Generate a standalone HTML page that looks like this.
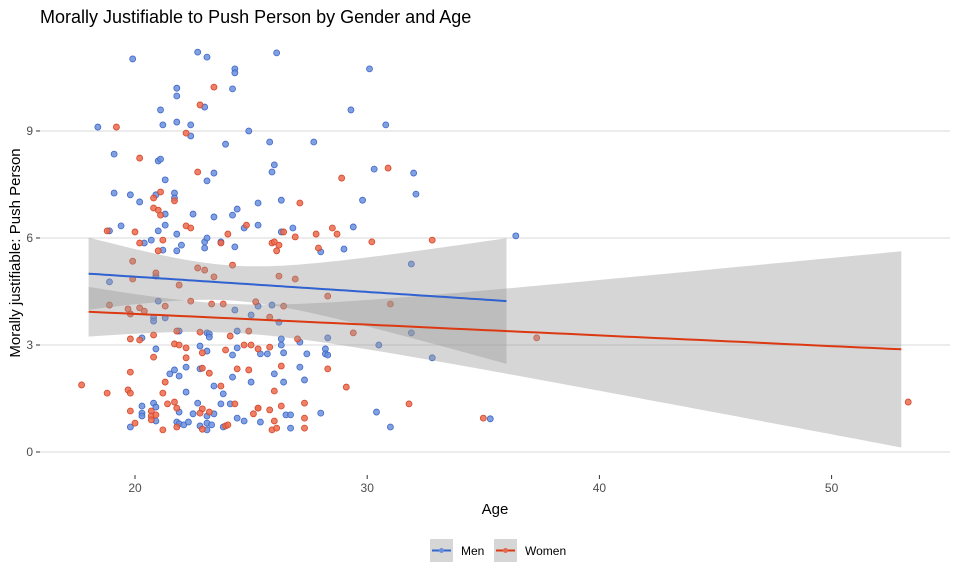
<!DOCTYPE html>
<html><head><meta charset="utf-8">
<style>
html,body{margin:0;padding:0;background:#fff;}
svg{display:block;font-family:"Liberation Sans",Arial,sans-serif;}
</style></head>
<body>
<svg id="chart" width="960" height="576" viewBox="0 0 960 576">
  <text x="40" y="23" font-size="18" fill="#000">Morally Justifiable to Push Person by Gender and Age</text>
  <g id="grid"></g>
  <g id="pts"></g>
  <g id="ribbons"></g>
  <g id="lines"></g>
  <g id="axes"></g>
  <text x="495" y="514" font-size="15" text-anchor="middle" fill="#000">Age</text>
  <text transform="translate(20,253) rotate(-90)" font-size="15" text-anchor="middle" fill="#000">Morally justifiable: Push Person</text>
  <g>
    <g>
      <rect x="430" y="539" width="23" height="23" fill="#d6d6d6"/>
      <line x1="432" y1="550.5" x2="451" y2="550.5" stroke="#3366cc" stroke-width="2"/>
      <circle cx="441.5" cy="550.5" r="2.5" fill="#6a8fdc"/>
      <text x="461" y="555" font-size="12" fill="#000">Men</text>
    </g>
    <g>
      <rect x="494" y="539" width="23" height="23" fill="#d6d6d6"/>
      <line x1="496" y1="550.5" x2="515" y2="550.5" stroke="#dc3912" stroke-width="2"/>
      <circle cx="505.5" cy="550.5" r="2.5" fill="#e66a4d"/>
      <text x="525" y="555" font-size="12" fill="#000">Women</text>
    </g>
  </g>
</svg>
<script>
var xTicks = [20, 30, 40, 50];
var yTicks = [0, 3, 6, 9];
var menAge = [19.9,22.7,23.1,24.3,24.3,21.8,21.8,24.2,23.0,21.1,21.2,21.8,22.4,18.4,24.9,22.4,23.9,19.1,21.0,21.1,23.4,23.1,21.3,19.1,19.8,20.2,20.9,21.7,21.7,24.4,24.2,23.4,22.5,21.3,25.3,19.4,21.3,21.0,21.8,18.9,24.7,25.3,20.7,20.4,22.0,23.0,23.1,23.7,24.3,23.0,21.2,21.8,18.9,20.9,21.0,20.8,20.8,21.3,24.3,25.0,21.9,23.1,23.2,23.2,24.4,20.3,20.9,22.8,23.1,24.2,24.4,22.2,21.7,21.5,21.9,22.8,24.2,25.0,23.4,22.2,23.8,20.3,20.8,20.9,20.3,20.3,20.9,21.9,22.5,22.7,23.4,23.7,24.1,24.4,24.7,19.8,21.8,21.9,22.1,22.3,22.8,23.1,23.1,23.1,23.3,23.8,26.1,30.1,29.3,30.8,25.8,27.7,26.0,25.9,30.3,32.0,32.1,26.3,29.8,26.8,29.4,26.3,29.0,28.0,31.9,25.3,25.9,26.2,31.9,28.3,26.3,27.1,26.3,30.5,28.2,28.2,28.3,25.4,25.7,26.4,27.4,32.8,27.1,26.0,26.4,27.3,26.5,26.7,28.0,30.4,25.4,26.7,31.0,36.4,35.3];
var menScore = [11.02,11.21,11.07,10.74,10.63,10.20,9.98,10.18,9.67,9.59,9.17,9.25,9.17,9.11,9.00,8.86,8.63,8.35,8.16,8.21,7.82,7.60,7.63,7.26,7.21,7.01,7.21,7.26,7.12,6.81,6.64,6.59,6.67,6.67,6.98,6.34,6.36,6.20,6.11,6.20,6.28,6.36,5.94,5.86,5.80,5.89,6.00,5.89,5.75,5.72,5.66,5.64,4.77,4.93,4.23,3.76,3.67,3.76,3.98,3.84,3.39,3.34,3.31,3.22,3.39,3.20,2.89,2.97,2.83,2.72,2.92,2.38,2.30,2.19,2.13,2.33,2.10,1.96,1.85,1.68,1.63,1.29,1.37,1.26,1.09,1.01,0.87,1.12,1.07,1.37,1.07,1.35,1.35,0.95,0.87,0.70,0.84,0.79,0.76,0.84,0.73,0.62,0.81,1.01,0.76,0.70,11.19,10.74,9.59,9.17,8.69,8.69,8.05,7.85,7.93,7.82,7.23,7.06,7.06,6.28,6.31,6.17,5.69,5.61,5.27,4.09,4.12,3.64,3.34,3.20,3.17,3.08,3.00,3.00,2.89,2.75,2.72,2.75,2.75,2.78,2.75,2.64,2.38,2.19,1.96,2.02,1.04,1.04,1.09,1.12,0.84,0.67,0.70,6.06,0.93];
var womenAge = [23.4,22.8,19.2,22.2,20.2,22.7,20.8,21.1,21.7,20.8,21.0,21.1,22.2,22.4,20.0,18.8,24.8,24.0,21.2,20.2,23.7,21.0,19.9,20.9,19.9,22.7,23.0,23.4,24.2,21.9,18.9,19.7,19.8,20.2,20.4,21.3,22.4,23.3,23.8,25.2,21.8,22.8,24.1,24.9,19.8,20.2,20.8,21.7,21.9,22.2,24.7,25.0,22.9,23.9,25.3,20.8,22.2,19.8,22.9,23.2,24.4,24.9,17.7,18.8,19.7,19.8,21.3,21.2,23.7,21.4,21.7,21.8,19.8,20.7,20.7,20.9,20.7,20.0,21.2,21.8,22.9,22.8,23.2,24.3,25.1,25.3,22.9,23.9,24.0,28.9,30.9,27.1,26.4,26.9,27.8,28.5,28.7,30.2,32.8,25.9,26.0,26.2,27.9,26.1,26.2,26.9,28.3,26.4,25.8,31.0,29.4,27.0,25.8,26.3,28.3,29.1,26.0,27.3,31.8,25.3,26.3,25.8,26.0,27.3,25.9,26.1,27.3,35.0,37.3,53.3];
var womenScore = [10.23,9.73,9.11,8.94,8.24,7.85,7.12,7.29,7.04,6.84,6.78,6.64,6.34,6.28,6.17,6.20,6.36,6.11,5.94,5.86,5.86,5.64,5.35,5.02,4.85,5.16,5.10,4.91,5.24,4.68,4.12,4.01,3.87,4.04,3.95,4.09,4.23,4.15,4.15,4.21,3.39,3.36,3.25,3.39,3.17,3.14,3.28,3.03,3.00,2.92,3.00,3.00,2.78,2.86,2.89,2.66,2.64,2.24,2.35,2.21,2.33,2.30,1.88,1.65,1.74,1.65,1.96,1.65,1.85,1.35,1.40,1.23,1.15,1.15,1.01,1.04,0.90,0.81,0.62,0.70,1.21,1.09,1.12,1.35,1.07,1.23,0.64,0.73,0.76,7.68,7.96,6.98,6.17,6.03,6.11,6.28,6.11,5.89,5.94,5.86,5.89,5.80,5.72,5.64,4.93,4.85,4.37,4.09,3.78,4.15,3.34,3.17,2.94,2.41,2.33,1.82,1.71,1.37,1.35,1.23,1.29,1.18,0.87,0.95,0.62,0.67,0.67,0.95,3.20,1.40];

var NS = "http://www.w3.org/2000/svg";
var PL = 40, PR = 950;
function xs(a){ return 135 + (a - 20) * 23.22; }
function ys(v){ return 452 - v * 35.67; }
function mk(tag, attrs, parent){
  var e = document.createElementNS(NS, tag);
  for (var k in attrs) e.setAttribute(k, attrs[k]);
  parent.appendChild(e);
  return e;
}
var grid = document.getElementById('grid');
var axes = document.getElementById('axes');
yTicks.forEach(function(t){
  var l = mk('line', {x1:PL, x2:PR, y1:ys(t), y2:ys(t), stroke:'#d9d9d9', 'stroke-width':1}, grid);
  
  
  var tk = mk('line', {x1:36, x2:40, y1:ys(t), y2:ys(t), stroke:'#333', 'stroke-width':1}, axes);
  
  
  var tx = mk('text', {x:33, y:ys(t)+4, 'font-size':12, 'text-anchor':'end', fill:'#4d4d4d'}, axes);
  tx.textContent = t;
  
  
});
xTicks.forEach(function(t){
  var tk = mk('line', {x1:xs(t), x2:xs(t), y1:475, y2:479, stroke:'#333', 'stroke-width':1}, axes);
  
  
  var tx = mk('text', {x:xs(t), y:492, 'font-size':12, 'text-anchor':'middle', fill:'#4d4d4d'}, axes);
  tx.textContent = t;
  
  
});

var pts = document.getElementById('pts');
function drawPts(ages, scores, fill, stroke, name){
  for (var i = 0; i < ages.length; i++){
    var c = mk('circle', {cx:xs(ages[i]), cy:ys(scores[i]), r:3, fill:fill, 'fill-opacity':0.85, stroke:stroke, 'stroke-width':0.8}, pts);
    
    
  }
}
drawPts(menAge, menScore, '#6a8fdc', '#3f68c9', 'point-men');
drawPts(womenAge, womenScore, '#ec6a4c', '#d3472a', 'point-women');

function fit(xa, ya){
  var n = xa.length, mx = 0, my = 0;
  for (var i=0;i<n;i++){ mx += xa[i]; my += ya[i]; }
  mx /= n; my /= n;
  var sxx = 0, sxy = 0;
  for (var i=0;i<n;i++){ sxx += (xa[i]-mx)*(xa[i]-mx); sxy += (xa[i]-mx)*(ya[i]-my); }
  var b = sxy/sxx, a = my - b*mx, sse = 0;
  for (var i=0;i<n;i++){ var r = ya[i] - (a + b*xa[i]); sse += r*r; }
  var s = Math.sqrt(sse/(n-2));
  return {a:a, b:b, s:s, n:n, mx:mx, sxx:sxx,
    lo:Math.round(Math.min.apply(null, xa)), hi:Math.round(Math.max.apply(null, xa))};
}
var ribbons = document.getElementById('ribbons');
var lines = document.getElementById('lines');
function drawFit(f, color, name){
  var steps = 80, up = [], dn = [], ln = [];
  for (var k=0;k<=steps;k++){
    var x = f.lo + (f.hi - f.lo)*k/steps;
    var yh = f.a + f.b*x;
    var se = f.s*Math.sqrt(1/f.n + (x-f.mx)*(x-f.mx)/f.sxx);
    up.push(xs(x).toFixed(1)+','+ys(yh+1.97*se).toFixed(1));
    dn.unshift(xs(x).toFixed(1)+','+ys(yh-1.97*se).toFixed(1));
    ln.push(xs(x).toFixed(1)+','+ys(yh).toFixed(1));
  }
  var p = mk('polygon', {points:up.concat(dn).join(' '), fill:'#999999', 'fill-opacity':0.4}, ribbons);
  
  
  var l = mk('polyline', {points:ln.join(' '), fill:'none', stroke:color, 'stroke-width':2}, lines);
  
  
}
drawFit(fit(menAge, menScore), '#2f62d0', 'men');
drawFit(fit(womenAge, womenScore), '#dc3912', 'women');
</script>
</body></html>
